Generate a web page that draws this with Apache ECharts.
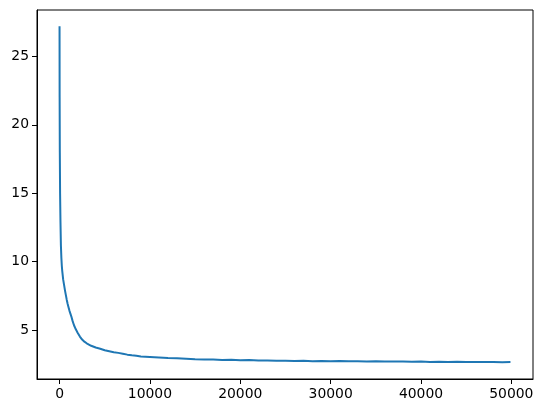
<!DOCTYPE html>
<html>
<head>
<meta charset="utf-8">
<script src="https://cdn.jsdelivr.net/npm/echarts@6/dist/echarts.min.js"></script>
<style>html,body{margin:0;padding:0;background:#fff;}#c{width:543px;height:413px;}</style>
</head>
<body>
<div id="c"></div>
<script>
const iterations = [0, 10, 30, 60, 100, 150, 200, 250, 300, 400, 500, 600, 700, 800, 900, 1000, 1100, 1200, 1300, 1450, 1600, 1800, 2000, 2250, 2500, 2750, 3000, 3500, 4000, 4500, 5000, 5500, 6000, 6500, 7000, 7500, 8000, 8500, 9000, 9500, 10000,
  11000, 12000, 13000, 14000, 15000, 16000, 17000, 18000, 19000, 20000, 21000, 22000, 23000, 24000, 25000, 26000, 27000, 28000, 29000, 30000,
  31000, 32000, 33000, 34000, 35000, 36000, 37000, 38000, 39000, 40000, 41000, 42000, 43000, 44000, 45000, 46000, 47000, 48000, 49000, 49900];
const loss = [27.2, 22.0, 18.0, 15.0, 13.0, 11.2, 10.3, 9.7, 9.3, 8.7, 8.3, 7.9, 7.55, 7.2, 6.9, 6.65, 6.4, 6.2, 6.0, 5.65, 5.35, 5.05, 4.8, 4.52, 4.3, 4.15, 4.03, 3.85, 3.72, 3.63, 3.52, 3.45, 3.38, 3.33, 3.27, 3.2, 3.15, 3.12, 3.07, 3.05, 3.03,
  2.99, 2.95, 2.93, 2.90, 2.87, 2.85, 2.84, 2.81, 2.82, 2.79, 2.80, 2.77, 2.78, 2.75, 2.76, 2.74, 2.75, 2.72, 2.74, 2.72,
  2.73, 2.71, 2.72, 2.70, 2.71, 2.70, 2.69, 2.70, 2.68, 2.69, 2.67, 2.68, 2.67, 2.68, 2.66, 2.67, 2.66, 2.67, 2.65, 2.66];
const xTicks = [0, 10000, 20000, 30000, 40000, 50000];
const yTicks = [5, 10, 15, 20, 25];

const chart = echarts.init(document.getElementById('c'), null, {renderer: 'canvas'});
const font = 'DejaVu Sans';
chart.setOption({
  animation: false,
  grid: {left: 37, right: 10, top: 10, bottom: 34, show: true, borderColor: '#000', borderWidth: 1, containLabel: false},
  xAxis: {
    type: 'value', min: -2495, max: 52395,
    axisLine: {show: true, onZero: false, lineStyle: {color: '#000', width: 1}},
    axisTick: {show: true, length: 5, inside: false, customValues: xTicks, lineStyle: {color: '#000'}},
    axisLabel: {customValues: xTicks, color: '#000', fontFamily: font, fontSize: 13.9, margin: 8, formatter: v => String(v)},
    splitLine: {show: false}
  },
  yAxis: {
    type: 'value', min: 1.42, max: 28.39,
    axisLine: {show: true, onZero: false, lineStyle: {color: '#000', width: 1}},
    axisTick: {show: true, length: 5, inside: false, customValues: yTicks, lineStyle: {color: '#000'}},
    axisLabel: {customValues: yTicks, color: '#000', fontFamily: font, fontSize: 13.9, margin: 8, formatter: v => String(v)},
    splitLine: {show: false}
  },
  series: [{
    type: 'line',
    data: iterations.map((x, i) => [x, loss[i]]),
    showSymbol: false,
    symbol: 'none',
    lineStyle: {color: '#1f77b4', width: 2},
    smooth: false
  }]
});
</script>
</body>
</html>
